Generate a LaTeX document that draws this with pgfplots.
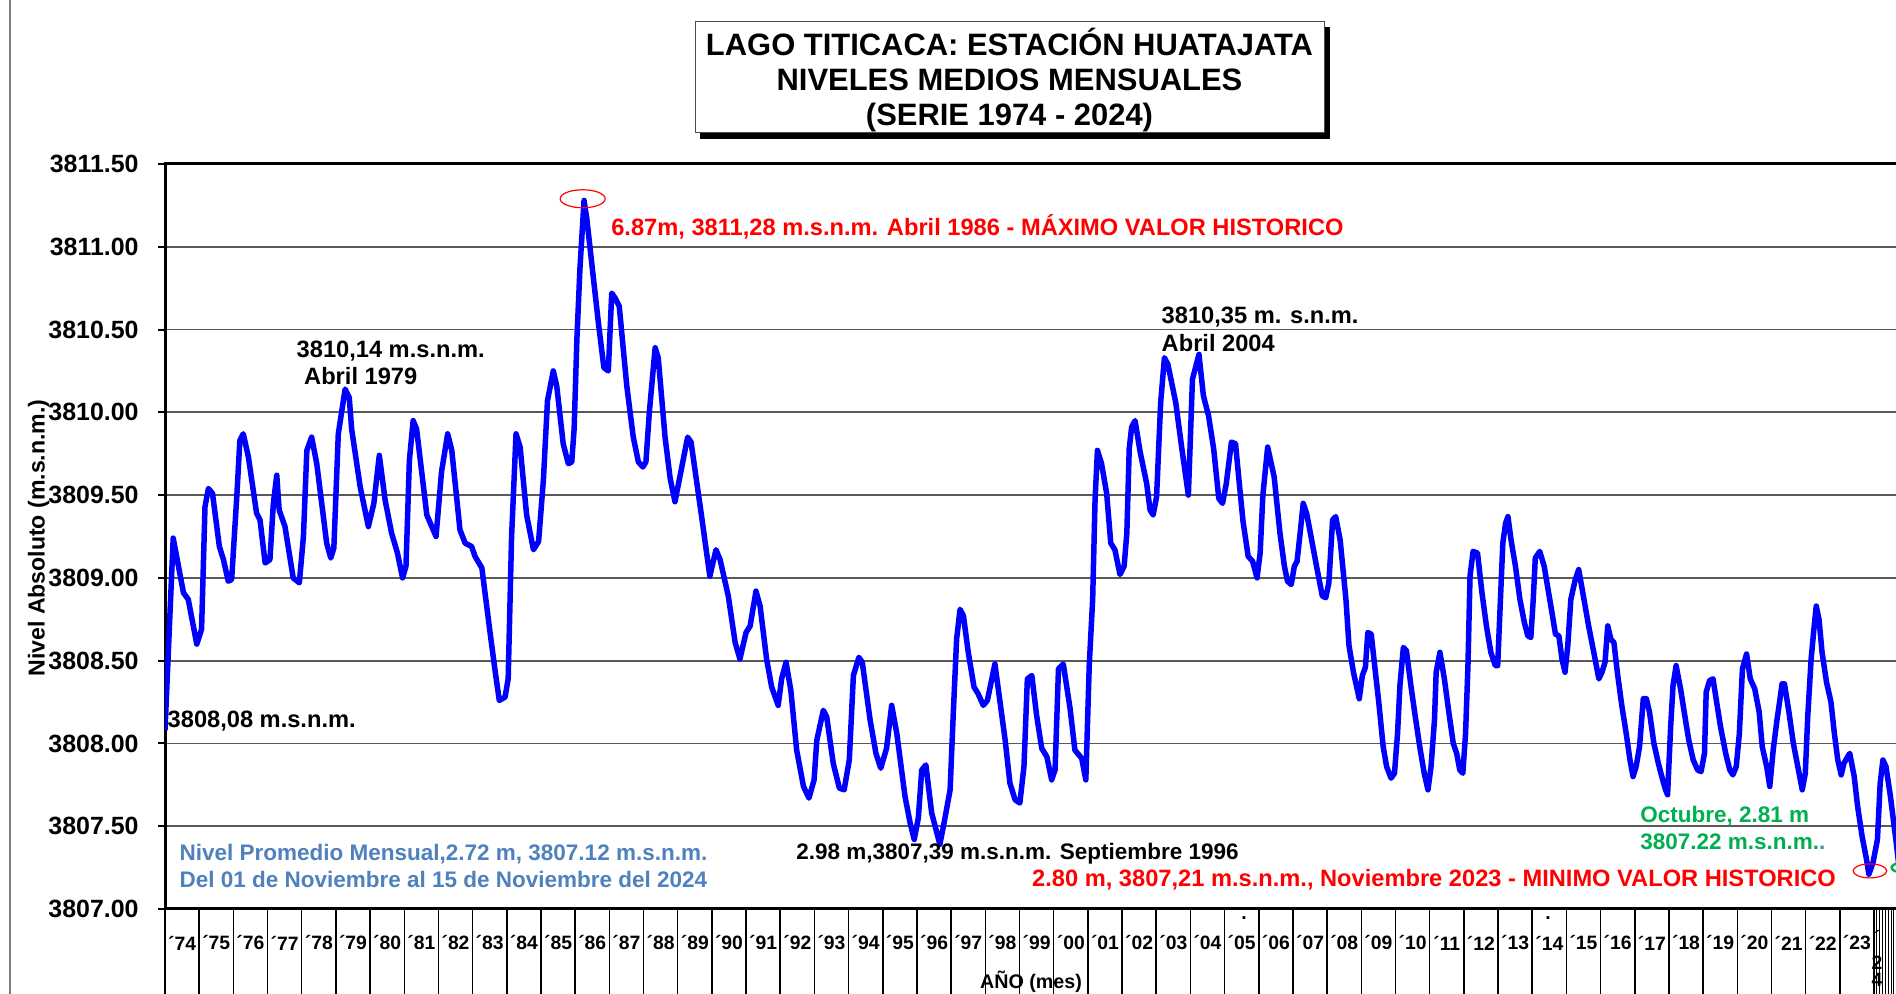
\documentclass[border=0pt]{standalone}
\usepackage{fontspec}
\setmainfont{Liberation Sans}
\usepackage{pgfplots}
\pgfplotsset{compat=1.18}
\usepackage{pgfplotstable}
\definecolor{lblue}{RGB}{79,129,189}
\definecolor{lgreen}{RGB}{0,176,80}

\pgfplotstableread{
yr lev
1974.00 3808.08
1974.24 3809.24
1974.54 3808.91
1974.68 3808.87
1974.93 3808.60
1975.07 3808.69
1975.17 3809.43
1975.27 3809.54
1975.39 3809.51
1975.59 3809.19
1975.71 3809.11
1975.85 3808.98
1975.95 3808.99
1976.10 3809.49
1976.19 3809.83
1976.29 3809.87
1976.44 3809.73
1976.68 3809.39
1976.78 3809.35
1976.93 3809.09
1977.07 3809.11
1977.17 3809.45
1977.27 3809.62
1977.34 3809.41
1977.51 3809.31
1977.75 3809.00
1977.93 3808.97
1978.05 3809.25
1978.15 3809.77
1978.29 3809.85
1978.44 3809.69
1978.73 3809.21
1978.85 3809.12
1978.94 3809.18
1979.07 3809.87
1979.27 3810.14
1979.39 3810.09
1979.46 3809.90
1979.71 3809.55
1979.95 3809.31
1980.11 3809.45
1980.27 3809.74
1980.44 3809.47
1980.63 3809.27
1980.80 3809.15
1980.95 3809.00
1981.05 3809.07
1981.15 3809.71
1981.26 3809.95
1981.36 3809.90
1981.66 3809.38
1981.93 3809.25
1982.09 3809.64
1982.27 3809.87
1982.39 3809.77
1982.63 3809.29
1982.78 3809.21
1982.97 3809.19
1983.07 3809.13
1983.27 3809.06
1983.51 3808.67
1983.65 3808.45
1983.78 3808.26
1983.95 3808.28
1984.04 3808.39
1984.14 3809.25
1984.27 3809.87
1984.39 3809.79
1984.58 3809.38
1984.78 3809.17
1984.93 3809.22
1985.07 3809.59
1985.19 3810.07
1985.36 3810.25
1985.46 3810.16
1985.65 3809.81
1985.80 3809.69
1985.90 3809.70
1985.97 3809.90
1986.05 3810.44
1986.14 3810.87
1986.26 3811.28
1986.34 3811.17
1986.48 3810.91
1986.68 3810.54
1986.84 3810.27
1986.97 3810.25
1987.07 3810.72
1987.17 3810.69
1987.29 3810.64
1987.51 3810.16
1987.70 3809.85
1987.85 3809.70
1987.98 3809.67
1988.07 3809.70
1988.17 3810.00
1988.34 3810.39
1988.43 3810.33
1988.63 3809.85
1988.78 3809.60
1988.92 3809.46
1989.12 3809.67
1989.29 3809.85
1989.39 3809.82
1989.70 3809.37
1989.94 3809.01
1990.12 3809.17
1990.24 3809.11
1990.48 3808.89
1990.68 3808.61
1990.82 3808.51
1991.00 3808.67
1991.12 3808.71
1991.29 3808.92
1991.41 3808.83
1991.60 3808.51
1991.75 3808.34
1991.94 3808.23
1992.04 3808.39
1992.17 3808.49
1992.31 3808.32
1992.48 3807.96
1992.68 3807.74
1992.84 3807.67
1992.99 3807.78
1993.07 3808.02
1993.26 3808.20
1993.36 3808.16
1993.55 3807.88
1993.73 3807.73
1993.87 3807.72
1994.02 3807.90
1994.14 3808.41
1994.30 3808.52
1994.40 3808.49
1994.63 3808.14
1994.80 3807.94
1994.94 3807.85
1995.11 3807.97
1995.26 3808.23
1995.41 3808.06
1995.65 3807.68
1995.80 3807.52
1995.92 3807.42
1996.04 3807.55
1996.14 3807.84
1996.26 3807.87
1996.43 3807.58
1996.67 3807.39
1996.82 3807.55
1996.97 3807.72
1997.06 3808.17
1997.16 3808.63
1997.26 3808.81
1997.36 3808.77
1997.50 3808.55
1997.67 3808.34
1997.79 3808.30
1997.94 3808.23
1998.06 3808.26
1998.28 3808.48
1998.43 3808.25
1998.58 3808.02
1998.72 3807.76
1998.87 3807.66
1999.01 3807.64
1999.13 3807.86
1999.23 3808.39
1999.36 3808.41
1999.50 3808.17
1999.65 3807.97
1999.80 3807.92
1999.94 3807.78
2000.04 3807.84
2000.14 3808.45
2000.28 3808.48
2000.48 3808.21
2000.62 3807.96
2000.82 3807.91
2000.94 3807.78
2001.04 3808.47
2001.14 3808.87
2001.21 3809.47
2001.28 3809.77
2001.40 3809.69
2001.55 3809.51
2001.67 3809.21
2001.79 3809.17
2001.94 3809.02
2002.06 3809.07
2002.14 3809.27
2002.21 3809.78
2002.28 3809.91
2002.38 3809.95
2002.53 3809.76
2002.72 3809.57
2002.82 3809.41
2002.91 3809.38
2003.01 3809.49
2003.13 3810.06
2003.24 3810.33
2003.34 3810.29
2003.57 3810.06
2003.75 3809.78
2003.94 3809.50
2004.06 3810.20
2004.25 3810.35
2004.38 3810.10
2004.53 3809.98
2004.68 3809.78
2004.83 3809.48
2004.94 3809.45
2005.05 3809.57
2005.20 3809.82
2005.32 3809.81
2005.44 3809.55
2005.54 3809.34
2005.69 3809.13
2005.82 3809.10
2005.95 3809.00
2006.04 3809.15
2006.12 3809.50
2006.26 3809.79
2006.45 3809.61
2006.62 3809.27
2006.75 3809.07
2006.84 3808.98
2006.95 3808.96
2007.04 3809.07
2007.12 3809.10
2007.21 3809.27
2007.30 3809.45
2007.40 3809.39
2007.51 3809.27
2007.69 3809.07
2007.86 3808.89
2007.96 3808.88
2008.05 3808.97
2008.16 3809.35
2008.25 3809.37
2008.38 3809.23
2008.55 3808.87
2008.64 3808.59
2008.77 3808.43
2008.94 3808.27
2009.03 3808.41
2009.12 3808.46
2009.19 3808.67
2009.29 3808.66
2009.38 3808.49
2009.51 3808.25
2009.64 3807.98
2009.74 3807.86
2009.87 3807.79
2009.97 3807.82
2010.06 3808.06
2010.13 3808.35
2010.23 3808.58
2010.32 3808.56
2010.45 3808.35
2010.58 3808.16
2010.71 3807.98
2010.84 3807.82
2010.95 3807.72
2011.04 3807.86
2011.14 3808.14
2011.19 3808.43
2011.30 3808.55
2011.43 3808.39
2011.56 3808.19
2011.69 3808.00
2011.79 3807.94
2011.88 3807.84
2011.97 3807.82
2012.05 3808.06
2012.12 3808.47
2012.18 3809.01
2012.27 3809.16
2012.40 3809.15
2012.53 3808.91
2012.66 3808.71
2012.79 3808.55
2012.92 3808.47
2012.99 3808.47
2013.05 3808.77
2013.14 3809.21
2013.22 3809.33
2013.29 3809.37
2013.38 3809.23
2013.51 3809.07
2013.64 3808.87
2013.77 3808.73
2013.87 3808.65
2013.96 3808.64
2014.03 3808.87
2014.09 3809.12
2014.22 3809.16
2014.35 3809.07
2014.48 3808.91
2014.61 3808.75
2014.68 3808.66
2014.78 3808.65
2014.87 3808.51
2014.96 3808.43
2015.04 3808.59
2015.13 3808.87
2015.26 3808.99
2015.36 3809.05
2015.48 3808.91
2015.65 3808.71
2015.82 3808.53
2015.95 3808.39
2016.04 3808.43
2016.13 3808.49
2016.21 3808.71
2016.30 3808.63
2016.39 3808.61
2016.49 3808.43
2016.62 3808.23
2016.75 3808.06
2016.86 3807.90
2016.95 3807.80
2017.04 3807.86
2017.14 3807.98
2017.25 3808.27
2017.34 3808.27
2017.43 3808.19
2017.56 3808.00
2017.69 3807.88
2017.79 3807.80
2017.90 3807.72
2017.96 3807.69
2018.05 3808.10
2018.12 3808.35
2018.21 3808.47
2018.34 3808.33
2018.47 3808.16
2018.58 3808.02
2018.71 3807.90
2018.84 3807.84
2018.94 3807.83
2019.04 3807.94
2019.09 3808.31
2019.19 3808.38
2019.29 3808.39
2019.38 3808.27
2019.51 3808.10
2019.66 3807.94
2019.78 3807.84
2019.87 3807.81
2019.97 3807.86
2020.06 3808.06
2020.15 3808.45
2020.27 3808.54
2020.38 3808.39
2020.51 3808.33
2020.64 3808.19
2020.73 3807.98
2020.86 3807.86
2020.95 3807.74
2021.05 3807.96
2021.16 3808.14
2021.25 3808.27
2021.31 3808.36
2021.38 3808.36
2021.51 3808.19
2021.64 3808.00
2021.77 3807.86
2021.90 3807.72
2021.99 3807.82
2022.06 3808.16
2022.16 3808.51
2022.25 3808.71
2022.31 3808.83
2022.39 3808.75
2022.48 3808.55
2022.61 3808.37
2022.74 3808.25
2022.84 3808.06
2022.94 3807.90
2023.04 3807.81
2023.12 3807.88
2023.23 3807.92
2023.29 3807.94
2023.42 3807.80
2023.52 3807.62
2023.65 3807.44
2023.78 3807.30
2023.85 3807.21
2023.97 3807.28
2024.10 3807.42
2024.18 3807.76
2024.26 3807.90
2024.35 3807.86
2024.48 3807.68
2024.65 3807.40
2024.75 3807.22
2024.83 3807.12
}\datatable

\pgfplotstableread{
yr lev
1986.22 3811.29
}\maxpt
\pgfplotstableread{
yr lev
2023.88 3807.23
}\minpt
\pgfplotstableread{
yr lev
2024.78 3807.25
}\octpt

\newcommand{\fs}[1]{\bfseries\fontsize{#1}{#1}\selectfont}

\begin{document}
\begin{tikzpicture}
\path[use as bounding box] (0,0) rectangle (189.6mm,99.4mm);
\clip (0,0) rectangle (189.6mm,99.4mm);
\fill[white] (0,0) rectangle (189.6mm,99.4mm);

\begin{axis}[
  at={(16.5mm,8.5mm)}, anchor=south west,
  scale only axis, width=174.32mm, height=74.5mm,
  xmin=1974, xmax=2025, ymin=3807, ymax=3811.5,
  xtick=\empty,
  ytick={3807,3807.5,3808,3808.5,3809,3809.5,3810,3810.5,3811,3811.5},
  scaled y ticks=false,
  ytick pos=left, tick align=outside, major tick length=0.7mm,
  tick style={black, line width=0.2mm},
  yticklabel style={/pgf/number format/fixed, /pgf/number format/fixed zerofill,
    /pgf/number format/precision=2, /pgf/number format/1000 sep={},
    /pgf/number format/assume math mode=true, font=\fs{7.1}, xshift=-0.7mm},
  ymajorgrids, grid style={black!65, line width=0.17mm},
  axis line style={black, line width=0.3mm},
]
\addplot[color=blue, line width=0.55mm, line join=round] table[x=yr,y=lev] {\datatable};
\addplot[only marks, mark=o, color=red, mark size=0.9mm, mark options={xscale=2.5, line width=0.12mm}] table[x=yr,y=lev] {\maxpt};
\addplot[only marks, mark=o, color=red, mark size=0.7mm, mark options={xscale=2.4, line width=0.12mm}] table[x=yr,y=lev] {\minpt};
\addplot[only marks, mark=o, color=lgreen, mark size=0.45mm, mark options={xscale=2.0, line width=0.25mm}] table[x=yr,y=lev] {\octpt};
\end{axis}

\begin{axis}[
  at={(16.5mm,0mm)}, anchor=south west,
  scale only axis, width=174.32mm, height=8.5mm,
  xmin=1974, xmax=2025, ymin=0, ymax=1,
  axis line style={draw=none}, ytick=\empty,
  xtick={1974,1975,...,2024}, xticklabels={},
  minor xtick={2024.0833,2024.1667,2024.25,2024.3333,2024.4167,2024.5,2024.5833,2024.6667,2024.75,2024.8333,2024.9167},
  xmajorgrids, xminorgrids,
  major grid style={black, line width=0.15mm},
  minor grid style={black, line width=0.1mm},
  major tick length=0pt, minor tick length=0pt,
  xticklabel style={anchor=center, yshift=5.1mm, font=\fs{5.5}},
  extra x ticks={1974.5,1975.5,...,2023.5},
  extra x tick labels={´74,´75,´76,´77,´78,´79,´80,´81,´82,´83,´84,´85,´86,´87,´88,´89,´90,´91,´92,´93,´94,´95,´96,´97,´98,´99,´00,´01,´02,´03,´04,´05,´06,´07,´08,´09,´10,´11,´12,´13,´14,´15,´16,´17,´18,´19,´20,´21,´22,´23},
  extra x tick style={grid=none},
]
\end{axis}

\begin{scope}[x=0.1mm, y=-0.1mm, shift={(0,99.4mm)}]
  % left gray line
  \draw[gray, line width=0.2mm] (10,0) -- (10,994);
  % title box
  \fill[black] (700,27) rectangle (1330,139);
  \draw[fill=white, draw=black!70, line width=0.1mm] (695,22) rectangle (1324,133);
  \node[align=center, font={\bfseries\fontsize{8.8}{9.96}\selectfont}, inner sep=0] at (1009.5,80)
    {LAGO TITICACA: ESTACIÓN HUATAJATA\\NIVELES MEDIOS MENSUALES\\(SERIE 1974 - 2024)};
  % y label
  \node[rotate=90, font=\fs{6.57}, inner sep=0] at (38.7,538) {Nivel Absoluto (m.s.n.m.)};
  % x label
  \node[font=\fs{5.6}, inner sep=0] at (1031,982) {AÑO (mes)};
  % 2024 stacked label
  \node[font=\fs{5.5}, inner sep=0] at (1877,937) {´};
  \node[font=\fs{5.5}, inner sep=0] at (1877,963) {2};
  \node[font=\fs{5.5}, inner sep=0] at (1877,980) {4};
  \node[font=\fs{5.5}, inner sep=0] at (1244,918) {.};
  \node[font=\fs{5.5}, inner sep=0] at (1548,918) {.};
  % annotations
  \node[anchor=west, font=\fs{6.73}, inner sep=0] at (296,350.7) {3810,14 m.s.n.m.};
  \node[anchor=west, font=\fs{6.73}, inner sep=0] at (303.5,376) {Abril 1979};
  \node[anchor=west, font=\fs{6.73}, inner sep=0, text=red] at (610.6,227) {6.87m, 3811,28 m.s.n.m. Abril 1986 - MÁXIMO VALOR HISTORICO};
  \node[anchor=west, font=\fs{6.73}, inner sep=0] at (1161,316.8) {3810,35 m. s.n.m.};
  \node[anchor=west, font=\fs{6.73}, inner sep=0] at (1161,343.4) {Abril 2004};
  \node[anchor=west, font=\fs{6.73}, inner sep=0] at (167,720.7) {3808,08 m.s.n.m.};
  \node[anchor=west, font=\fs{6.4}, inner sep=0, text=lblue] at (179,853.7) {Nivel Promedio Mensual,2.72 m, 3807.12 m.s.n.m.};
  \node[anchor=west, font=\fs{6.4}, inner sep=0, text=lblue] at (179,879) {Del 01 de Noviembre al 15 de Noviembre del 2024};
  \node[anchor=west, font=\fs{6.4}, inner sep=0] at (795.7,853.7) {2.98 m,3807,39 m.s.n.m. Septiembre 1996};
  \node[anchor=west, font=\fs{6.73}, inner sep=0, text=red] at (1031.5,880) {2.80 m, 3807,21 m.s.n.m., Noviembre 2023 - MINIMO VALOR HISTORICO};
  \node[anchor=west, font=\fs{6.4}, inner sep=0, text=lgreen] at (1639.7,816) {Octubre, 2.81 m};
  \node[anchor=west, font=\fs{6.4}, inner sep=0, text=lgreen] at (1639.7,841.6) {3807.22 m.s.n.m.\textcolor{lblue}{.}};
\end{scope}
\end{tikzpicture}
\end{document}
